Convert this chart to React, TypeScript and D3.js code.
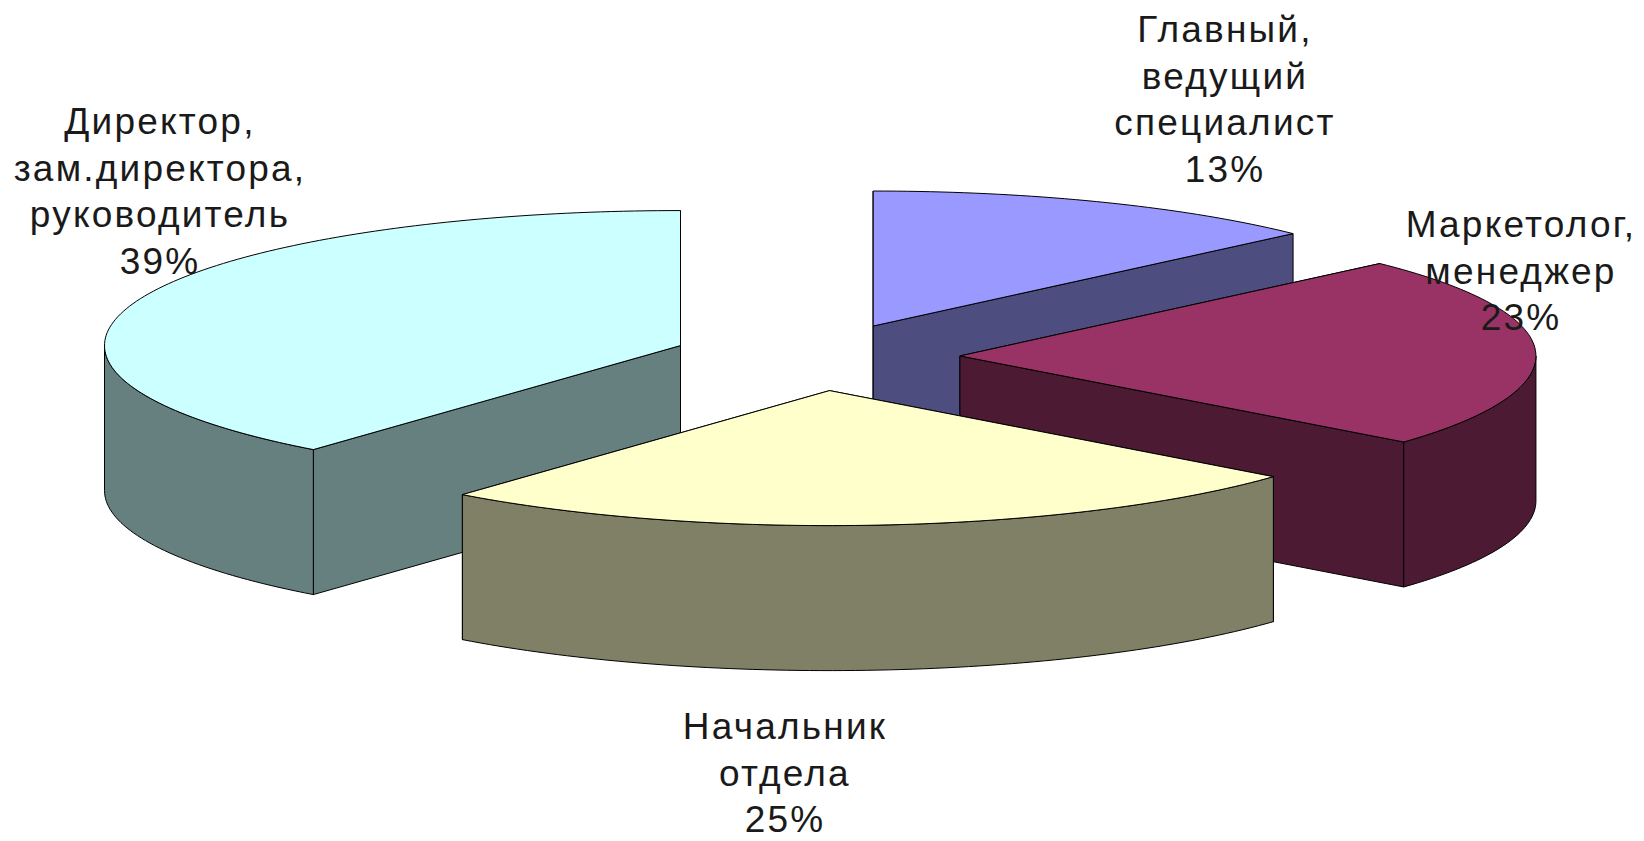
import React from "react";
import * as d3 from "d3";

// Staff structure by position, share of respondents in percent.
const categories = [
  ["Главный,", "ведущий", "специалист"],
  ["Маркетолог,", "менеджер"],
  ["Начальник", "отдела"],
  ["Директор,", "зам.директора,", "руководитель"],
];
const shares = [13, 23, 25, 39];
const topColors = ["#9999FF", "#993366", "#FFFFCC", "#CCFFFF"];
const wallColors = ["#4D4D80", "#4D1A33", "#808066", "#668080"];

// Horizontal centre and first baseline of each label block.
const labelX = [1225, 1521, 785, 160];
const labelY = [42, 237, 739, 134];
const lineGap = 46.7;

const width = 1644;
const height = 841;
const cx = 816;
const cy = 357;
const rx = 576;
const ry = 135;
const depth = 145;
const explosion = 0.25;

// Back slices first so the nearer ones overlap them.
const paintOrder = [0, 3, 1, 2];

type Pt = [number, number];

function Slice({ arc, i }: { arc: d3.PieArcDatum<number>; i: number }) {
  const mid = (arc.startAngle + arc.endAngle) / 2;
  const ox = cx + explosion * rx * Math.sin(mid);
  const oy = cy - explosion * ry * Math.cos(mid);
  const project = (a: number, drop = 0): Pt => [
    ox + rx * Math.sin(a),
    oy - ry * Math.cos(a) + drop,
  ];
  const sweep = (a0: number, a1: number) => {
    const steps = Math.max(1, Math.ceil((a1 - a0) / 0.02));
    return d3.range(steps + 1).map((k) => a0 + ((a1 - a0) * k) / steps);
  };
  const line = d3.line<Pt>();
  const closed = (pts: Pt[]) => (line(pts) ?? "") + "Z";
  const apex: Pt = [ox, oy];
  const apexLow: Pt = [ox, oy + depth];

  const cutFace = (a: number) =>
    closed([apex, project(a), project(a, depth), apexLow]);

  // The outer rim only shows on the front half of the ellipse.
  const rimStart = Math.max(arc.startAngle, Math.PI / 2);
  const rimEnd = Math.min(arc.endAngle, (3 * Math.PI) / 2);
  const rim =
    rimEnd > rimStart
      ? closed([
          ...sweep(rimStart, rimEnd).map((a) => project(a)),
          ...sweep(rimStart, rimEnd)
            .reverse()
            .map((a) => project(a, depth)),
        ])
      : null;

  const top = closed([
    apex,
    ...sweep(arc.startAngle, arc.endAngle).map((a) => project(a)),
  ]);

  const edge = { stroke: "#000", strokeWidth: 1, strokeLinejoin: "round" as const };
  return (
    <g>
      <path d={cutFace(arc.startAngle)} fill={wallColors[i]} {...edge} />
      <path d={cutFace(arc.endAngle)} fill={wallColors[i]} {...edge} />
      {rim && <path d={rim} fill={wallColors[i]} {...edge} />}
      <path d={top} fill={topColors[i]} {...edge} />
    </g>
  );
}

export default function App() {
  const arcs = d3.pie<number>().sort(null).value((d) => d)(shares);
  return (
    <svg
      width={width}
      height={height}
      viewBox={`0 0 ${width} ${height}`}
      style={{ position: "absolute", left: 0, top: 0, background: "#fff" }}
    >
      {paintOrder.map((i) => (
        <Slice key={i} arc={arcs[i]} i={i} />
      ))}
      {categories.map((lines, i) => (
        <text
          key={i}
          textAnchor="middle"
          fontFamily="'Liberation Sans', Arial, sans-serif"
          fontSize={37}
          letterSpacing={2.2}
          fill="#1a1a1a"
        >
          {[...lines, `${shares[i]}%`].map((t, k) => (
            <tspan key={k} x={labelX[i]} y={labelY[i] + k * lineGap}>
              {t}
            </tspan>
          ))}
        </text>
      ))}
    </svg>
  );
}
